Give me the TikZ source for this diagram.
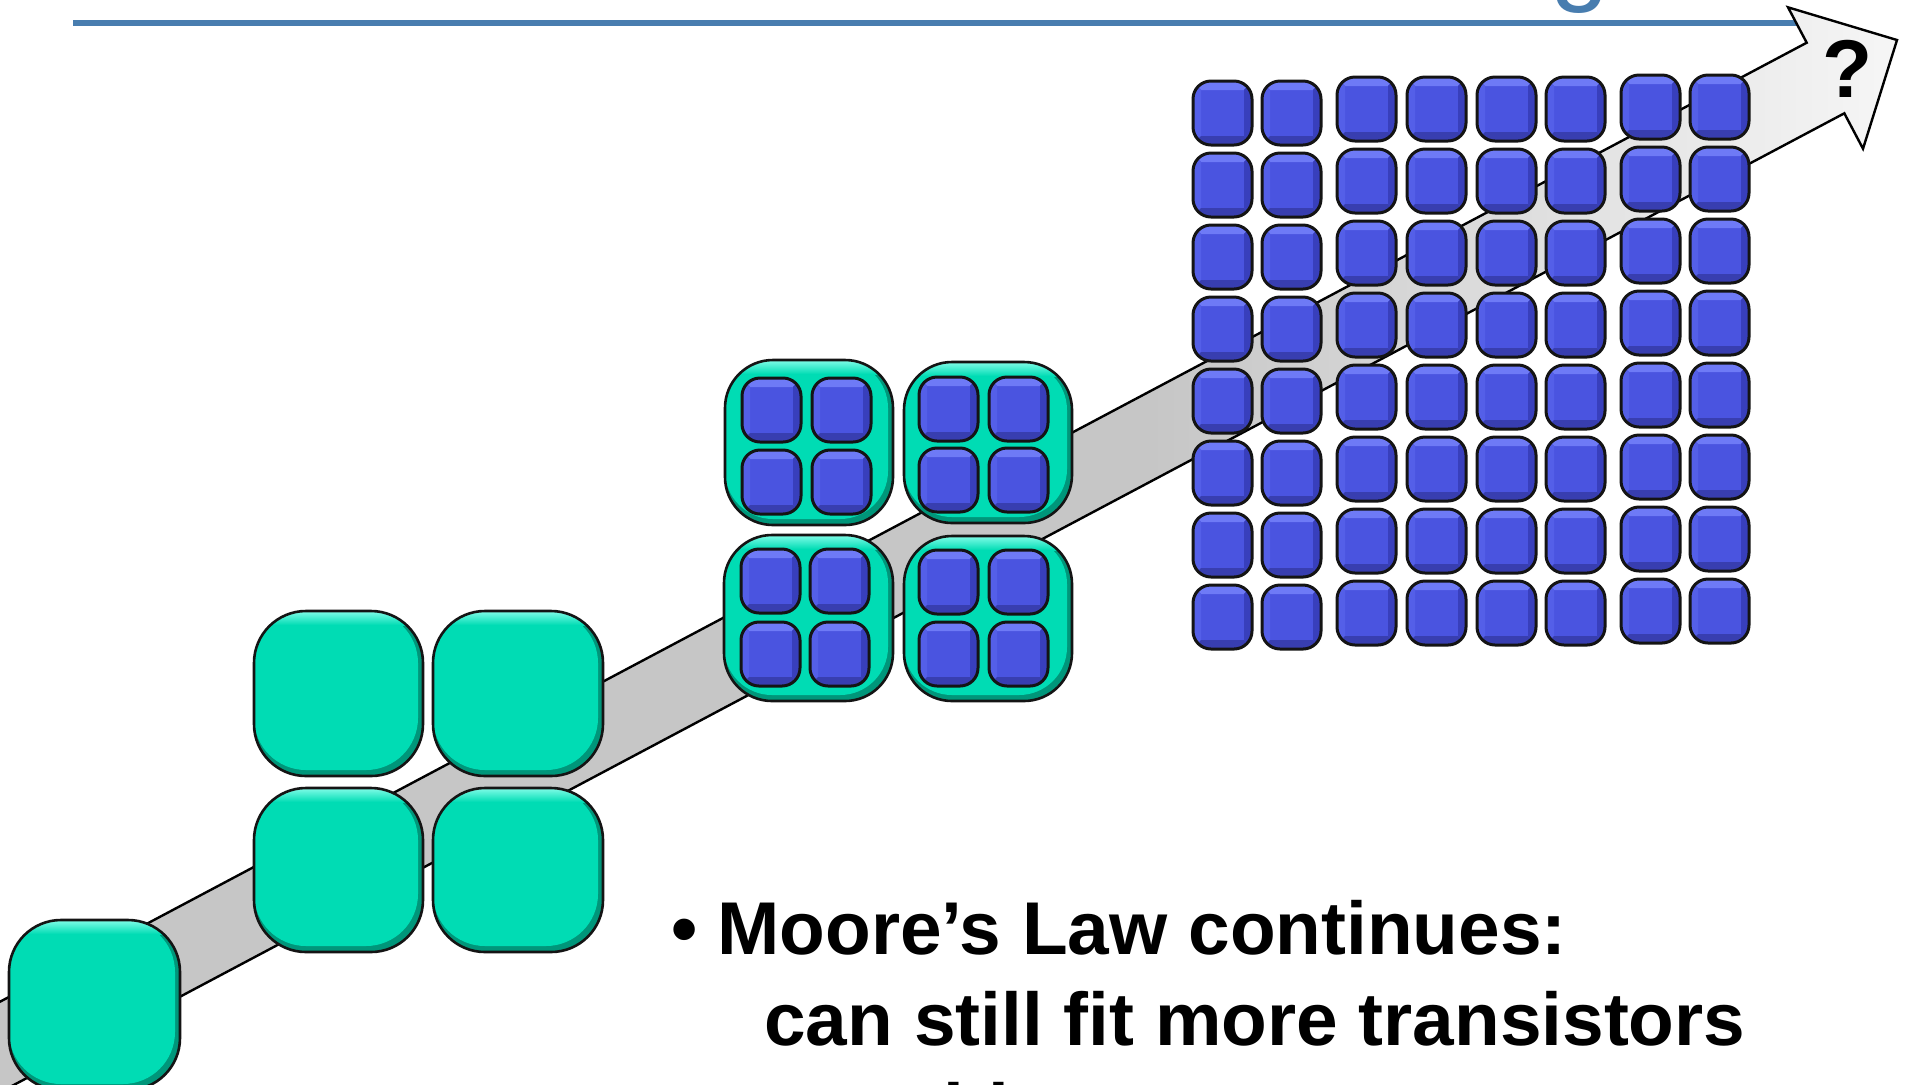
\documentclass[tikz,border=0pt]{standalone}
\usepackage{fontspec}
\setmainfont{Liberation Sans}
\usetikzlibrary{calc}
\definecolor{bandgray}{RGB}{198,198,198}
\definecolor{bandlight}{RGB}{246,246,246}
\definecolor{titleblue}{RGB}{72,125,175}
\definecolor{cyanmain}{RGB}{0,220,180}
\definecolor{cyandark}{RGB}{0,150,122}
\definecolor{cyanlight}{RGB}{120,250,228}
\definecolor{bluemain}{RGB}{74,84,224}
\definecolor{bluetop}{RGB}{110,122,246}
\definecolor{blueleft}{RGB}{84,95,232}
\definecolor{blueright}{RGB}{56,63,188}
\definecolor{bluebottom}{RGB}{56,62,176}
\definecolor{edgeblack}{RGB}{20,20,20}
\pgfdeclarehorizontalshading{bandshade}{100bp}{color(0bp)=(bandgray); color(56bp)=(bandgray); color(75bp)=(bandlight); color(100bp)=(bandlight)}
\tikzset{
  boxline/.style={draw=edgeblack, line width=1.3pt},
  bluebordr/.style={draw=edgeblack, line width=1.5pt},
  bodytext/.style={anchor=base west, inner sep=0pt, font=\fontsize{37.4}{44}\selectfont\bfseries}
}
% cyan bevelled box: x1 y1 x2 y2 radius
\newcommand\cyanbox[5]{%
  \begin{scope}
    \clip[rounded corners=#5] (#1,#2) rectangle (#3,#4);
    \fill[cyandark] (#1,#2) rectangle (#3,#4);
    \fill[cyanmain, rounded corners=#5] (#1,#2) rectangle ({#3-5},{#4-6});
    \fill[top color=cyanlight, bottom color=cyanmain] ({#1+2},{#2+1}) rectangle ({#3-6},{#2+14});
  \end{scope}
  \draw[boxline, rounded corners=#5] (#1,#2) rectangle (#3,#4);}
% blue bevelled box: x y (59 x 64)
\newcommand\bluebox[2]{%
  \pgfmathsetmacro\qxa{#1}\pgfmathsetmacro\qya{#2}%
  \pgfmathsetmacro\qxb{#1+59}\pgfmathsetmacro\qyb{#2+64}%
  \pgfmathsetmacro\qxc{#1+8}\pgfmathsetmacro\qyc{#2+9}%
  \pgfmathsetmacro\qxd{#1+51}\pgfmathsetmacro\qyd{#2+55}%
  \begin{scope}
    \clip[rounded corners=9] (\qxa,\qya) rectangle (\qxb,\qyb);
    \fill[bluemain] (\qxa,\qya) rectangle (\qxb,\qyb);
    \fill[bluetop] (\qxa,\qya) -- (\qxb,\qya) -- (\qxd,\qyc) -- (\qxc,\qyc) -- cycle;
    \fill[blueleft] (\qxa,\qya) -- (\qxc,\qyc) -- (\qxc,\qyd) -- (\qxa,\qyb) -- cycle;
    \fill[blueright] (\qxb,\qya) -- (\qxd,\qyc) -- (\qxd,\qyd) -- (\qxb,\qyb) -- cycle;
    \fill[bluebottom] (\qxa,\qyb) -- (\qxc,\qyd) -- (\qxd,\qyd) -- (\qxb,\qyb) -- cycle;
  \end{scope}
  \draw[bluebordr, rounded corners=9] (\qxa,\qya) rectangle (\qxb,\qyb);}
\begin{document}
\begin{tikzpicture}[x=0.5pt,y=-0.5pt]
\useasboundingbox (0,0) rectangle (1906,1084);
\clip (0,0) rectangle (1906,1084);
\fill[white] (0,0) rectangle (1906,1084);
% title remnant and rule
\node[anchor=base west, inner sep=0pt, text=titleblue, font=\fontsize{53}{60}\selectfont] (title) at (1550,-9) {g};
\draw[titleblue, line width=2.8pt] (73,23) -- (1830,23);
% big arrow
\path[shade, shading=bandshade, draw=black, line width=1.2pt, line join=miter]
  (-69.5,1038.6) -- (1806.7,42.7) -- (1788.0,7.3) -- (1897,40) -- (1863.0,148.7) -- (1844.3,113.3) -- (-31.9,1109.2) -- cycle;
\node[anchor=base, inner sep=0pt, font=\fontsize{41}{46}\selectfont\bfseries] (qmark) at (1848,97) {?};
% single core
\cyanbox{9}{920}{180}{1090}{26}
% four cores
\cyanbox{254}{611}{423}{776}{26}
\cyanbox{433}{611}{603}{776}{26}
\cyanbox{254}{788}{423}{952}{26}
\cyanbox{433}{788}{603}{952}{26}
% four groups of four
\cyanbox{725}{360}{893}{525}{24}
\cyanbox{904}{362}{1072}{523}{24}
\cyanbox{724}{535}{893}{701}{24}
\cyanbox{904}{536}{1072}{701}{24}
\bluebox{742}{378}\bluebox{812}{378}\bluebox{742}{450}\bluebox{812}{450}
\bluebox{919}{377}\bluebox{989}{377}\bluebox{919}{448}\bluebox{989}{448}
\bluebox{741}{549}\bluebox{810}{549}\bluebox{741}{622}\bluebox{810}{622}
\bluebox{919}{550}\bluebox{989}{550}\bluebox{919}{622}\bluebox{989}{622}
% 8x8 grid
\foreach \cx/\dy in {1193/4, 1262/4, 1337/0, 1407/0, 1477/0, 1546/0, 1621/-2, 1690/-2} {
  \foreach \rr in {0,...,7} {
    \pgfmathsetmacro\ry{77+72*\rr+\dy}
    \bluebox{\cx}{\ry}
  }
}
% text
\node[bodytext] (bullet) at (671,954) {•};
\node[bodytext] (line1) at (717,954) {Moore’s Law continues:};
\node[bodytext] (line2) at (764,1045) {can still fit more transistors};
\node[bodytext] (line3) at (764,1136) {per chip};
\end{tikzpicture}
\end{document}
